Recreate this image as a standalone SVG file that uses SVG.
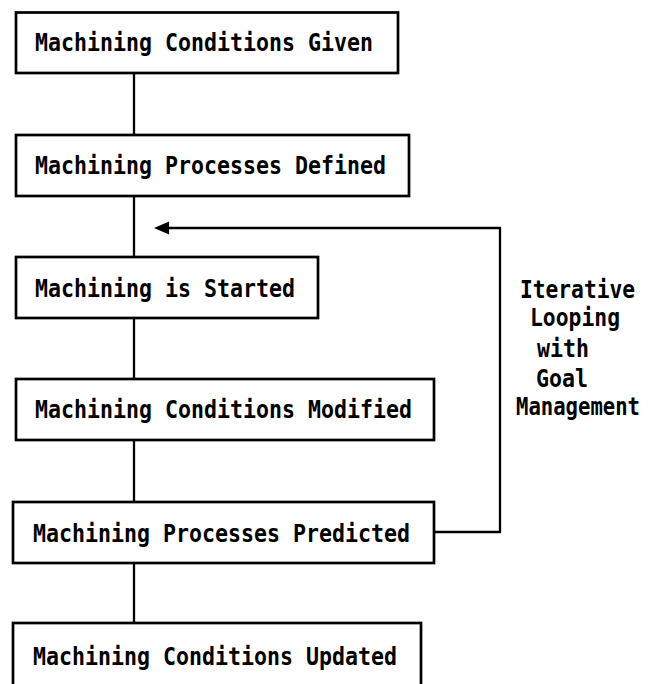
<svg xmlns="http://www.w3.org/2000/svg" width="649" height="684" viewBox="0 0 649 684">
  <style>
    .box { fill: #ffffff; stroke: #000000; stroke-width: 2.7; }
    .wire { fill: none; stroke: #000000; stroke-width: 2.3; }
    .head { fill: #000000; stroke: none; }
    .t { font-family: "DejaVu Sans Mono", "Liberation Mono", monospace; font-weight: bold; font-size: 24px; fill: #000000; }
    .tight { font-size: 22px; }
  </style>
  <rect width="649" height="684" fill="#ffffff"/>

  <!-- connectors -->
  <g id="connectors">
    <line class="wire" x1="134" y1="73" x2="134" y2="135"/>
    <line class="wire" x1="134" y1="196" x2="134" y2="257"/>
    <line class="wire" x1="134" y1="318" x2="134" y2="379"/>
    <line class="wire" x1="134" y1="440" x2="134" y2="502"/>
    <line class="wire" x1="134" y1="563" x2="134" y2="623"/>
    <!-- feedback loop from prediction back above the start step -->
    <path class="wire" d="M434,532 H500 V228 H166"/>
    <polygon class="head" points="154,228 169,221.5 169,234.5"/>
  </g>

  <g id="given">
    <rect class="box" x="16" y="12.5" width="382" height="60.5"/>
    <text class="t" x="35" y="51" textLength="338" lengthAdjust="spacingAndGlyphs">Machining Conditions Given</text>
  </g>

  <g id="defined">
    <rect class="box" x="16" y="135" width="393" height="61"/>
    <text class="t" x="35" y="174" textLength="351" lengthAdjust="spacingAndGlyphs">Machining Processes Defined</text>
  </g>

  <g id="started">
    <rect class="box" x="16" y="257" width="302" height="61"/>
    <text class="t" x="35" y="297" textLength="260" lengthAdjust="spacingAndGlyphs">Machining is Started</text>
  </g>

  <g id="modified">
    <rect class="box" x="16" y="379" width="418" height="61"/>
    <text class="t" x="35" y="418" textLength="377" lengthAdjust="spacingAndGlyphs">Machining Conditions Modified</text>
  </g>

  <g id="predicted">
    <rect class="box" x="13" y="502" width="421" height="61"/>
    <text class="t" x="33" y="542" textLength="377" lengthAdjust="spacingAndGlyphs">Machining Processes Predicted</text>
  </g>

  <g id="updated">
    <rect class="box" x="13" y="623" width="408" height="80"/>
    <text class="t" x="33" y="665" textLength="364" lengthAdjust="spacingAndGlyphs">Machining Conditions Updated</text>
  </g>

  <g id="loop-label">
    <text class="t" x="520" y="298" textLength="115" lengthAdjust="spacingAndGlyphs">Iterative</text>
    <text class="t" x="530" y="326" textLength="90" lengthAdjust="spacingAndGlyphs">Looping</text>
    <text class="t" x="537" y="357" textLength="52" lengthAdjust="spacingAndGlyphs">with</text>
    <text class="t" x="536" y="387" textLength="52" lengthAdjust="spacingAndGlyphs">Goal</text>
    <!-- stretched vertically so the last line keeps the cap height of the others -->
    <text class="t tight" transform="translate(516,415) scale(1,1.09)" x="0" y="0" textLength="124" lengthAdjust="spacingAndGlyphs">Management</text>
  </g>
</svg>
